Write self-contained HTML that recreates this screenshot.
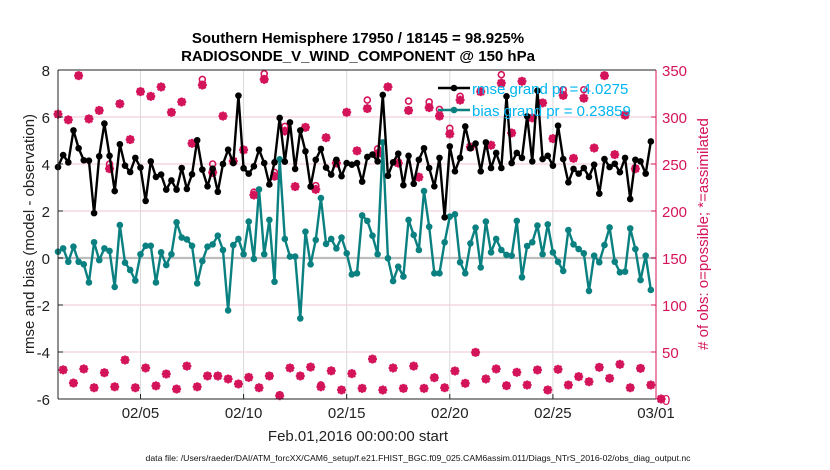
<!DOCTYPE html>
<html><head><meta charset="utf-8">
<style>
html,body{margin:0;padding:0;background:#fff;}
svg{display:block;font-family:"Liberation Sans",sans-serif;}
</style></head>
<body>
<svg id="chart" width="830" height="470" viewBox="0 0 830 470">
<text x="358" y="43" text-anchor="middle" font-size="15" font-weight="bold">Southern Hemisphere 17950 / 18145 = 98.925%</text>
<text x="358" y="61" text-anchor="middle" font-size="15" font-weight="bold">RADIOSONDE_V_WIND_COMPONENT @ 150 hPa</text>
<text transform="translate(34,234) rotate(-90)" text-anchor="middle" font-size="15" fill="#222">rmse and bias (model - observation)</text>
<text transform="translate(708,234) rotate(-90)" text-anchor="middle" font-size="15" fill="#d4145a"># of obs: o=possible; *=assimilated</text>
<text x="358" y="441" text-anchor="middle" font-size="15" fill="#222">Feb.01,2016 00:00:00 start</text>
<text x="418" y="461" text-anchor="middle" font-size="8.4" textLength="545" lengthAdjust="spacingAndGlyphs" fill="#111">data file: /Users/raeder/DAI/ATM_forcXX/CAM6_setup/f.e21.FHIST_BGC.f09_025.CAM6assim.011/Diags_NTrS_2016-02/obs_diag_output.nc</text>
<g id="grid"></g>
<g id="marks"></g>
<g id="axes"></g>
<g id="legend"></g>
</svg>
<script>
const xTickLabels=["02/05","02/10","02/15","02/20","02/25","03/01"];
const xTickDays=[4,9,14,19,24,29];
const yTicksLeft=[-6,-4,-2,0,2,4,6,8];
const yTicksRight=[0,50,100,150,200,250,300,350];
const rmse=[3.87,4.38,4.07,5.43,4.67,4.16,4.14,1.91,4.33,5.72,4.35,2.85,4.84,3.93,3.66,4.26,3.85,2.43,4.11,3.45,3.55,2.91,3.30,2.91,3.83,2.94,3.56,5.01,3.76,3.05,3.80,2.82,4.0,4.61,4.04,6.91,3.82,3.59,3.90,4.61,4.04,3.13,4.07,5.96,4.10,5.77,3.79,5.43,4.54,3.04,4.18,4.64,3.85,3.55,4.18,3.48,4.04,3.97,4.04,3.25,4.30,4.40,4.11,6.94,3.5,4.07,4.44,3.1,4.35,3.16,4.18,4.67,3.83,3.05,4.26,1.73,4.75,3.69,4.26,5.6,4.67,4.87,3.69,4.92,3.83,4.47,3.83,6.88,4.04,4.47,4.26,6.03,4.11,7.12,4.21,4.35,3.93,5.63,4.21,3.22,3.79,3.59,3.83,3.45,3.97,2.74,4.21,3.87,4.01,3.65,4.26,2.51,4.18,4.11,3.59,4.96];
const bias=[0.27,0.41,-0.16,0.48,-0.16,-0.27,-1.04,0.67,-0.09,0.41,0.30,-1.23,1.40,-0.2,-0.51,-0.96,0.16,0.52,0.52,-1.04,0.24,-0.3,0.16,1.52,0.87,0.79,0.52,-1.08,-0.13,0.48,0.58,0.95,0.34,-2.23,0.55,0.81,0.16,1.55,-0.04,2.92,0.16,1.62,-1.01,4.2,0.81,0.06,0.06,-2.57,1.12,-0.27,0.77,2.55,0.6,0.81,0.41,0.87,0.2,-0.7,-0.65,1.81,1.58,0.95,0.16,4.92,-0.01,-0.98,-0.37,-0.79,1.62,0.98,0.34,2.85,1.33,-0.65,-0.65,0.67,1.76,1.86,-0.18,-0.65,0.62,1.29,-0.4,1.55,0.24,0.81,0.34,0.13,0.1,1.58,-0.82,0.51,0.67,1.38,0.16,1.43,0.24,-0.16,-0.55,1.19,0.58,0.38,0.2,-1.4,0.1,-0.18,0.55,1.3,-0.16,-0.61,-0.58,1.26,0.38,-0.94,0.1,-1.36];
const assimUpper=[303,297,344,298,307,245,314,276,327,322,332,305,316,272,334,241,301,253,265,217,340,237,285,226,289,223,278,251,305,264,309,261,332,251,307,236,310,301,282,318,268,327,270,336,283,338,299,315,277,323,256,320,267,344,260,302,245];
const possUpper=[303,297,344,298,307,250,314,276,327,322,332,305,316,272,340,250,301,253,265,220,346,241,290,226,289,227,278,252,305,264,318,266,332,251,317,236,316,308,288,322,268,327,270,345,283,338,299,315,277,329,256,329,267,344,260,302,245];
const assimLower=[31,17,32,12,28,13,41.5,12,33,14,26.6,10.6,35,13,24.5,24.5,21.3,16,23,12,24.5,3.5,33,24.5,34,13,30,9.6,27,11.3,42.5,9.6,33,11.3,35,11.3,22.7,12,29.8,16.7,49.6,21.3,32,14.2,28.4,14.9,30.9,9.6,31.6,14.9,23.8,18.4,33.7,22,36.9,12,32.6,14.9,0];
const possLower=[31,17,32,12,28,13,41.5,12,33,14,26.6,10.6,35,13,24.5,24.5,21.3,16,23,12,24.5,4.5,33,24.5,34,15,30,9.6,27,11.3,42.5,9.6,33,11.3,35,11.3,22.7,12,29.8,16.7,49.6,21.3,32,14.2,28.4,14.9,30.9,9.6,31.6,14.9,23.8,18.4,33.7,22,36.9,12,32.6,14.9,0];

const L=58,R=656,T=70,B=399;
const X=d=>L+(R-L)*d/29;
const Y=v=>B-(B-T)*(v+6)/14;
const YR=c=>B-(B-T)*c/350;
const NS="http://www.w3.org/2000/svg";
function mk(tag,attrs,parent){const e=document.createElementNS(NS,tag);for(const k in attrs)e.setAttribute(k,attrs[k]);parent.appendChild(e);return e;}
const grid=document.getElementById('grid'),marks=document.getElementById('marks'),axes=document.getElementById('axes'),leg=document.getElementById('legend');
const PINK="#d4145a",TEAL="#0a8080";

yTicksLeft.forEach(v=>{
  if(v>-6&&v<8){const g=mk('line',{x1:L,x2:R,y1:Y(v),y2:Y(v),stroke:'#f2c6d6','stroke-width':1},grid);
  
  }
  const t=mk('text',{x:L-8,y:Y(v)+6,'text-anchor':'end','font-size':15,fill:'#222'},axes);t.textContent=v;
  
  
  mk('line',{x1:L,x2:L+5,y1:Y(v),y2:Y(v),stroke:'#222'},axes);
});
xTickDays.forEach((d,i)=>{
  if(d<29){const g=mk('line',{x1:X(d),x2:X(d),y1:T,y2:B,stroke:'#d9d9d9','stroke-width':1},grid);
  
  }
  mk('line',{x1:X(d),x2:X(d),y1:B,y2:B-5,stroke:'#222'},axes);
  const t=mk('text',{x:X(d),y:B+19,'text-anchor':'middle','font-size':15,fill:'#222'},axes);t.textContent=xTickLabels[i];
  
  
});
yTicksRight.forEach(c=>{
  mk('line',{x1:R,x2:R-5,y1:YR(c),y2:YR(c),stroke:PINK},axes);
  const t=mk('text',{x:R+6,y:YR(c)+6,'font-size':15,fill:PINK},axes);t.textContent=c;
  
  
});
const z=mk('line',{x1:L,x2:R,y1:Y(0),y2:Y(0),stroke:'#bdbdbd','stroke-width':2.2},grid);



function star(x,y,name){
  const g=mk('g',{stroke:PINK,'stroke-width':2.2,fill:PINK},marks);
  
  
  mk('circle',{cx:x,cy:y,r:3},g);
  mk('line',{x1:x-4.5,x2:x+4.5,y1:y,y2:y},g);
  mk('line',{x1:x,x2:x,y1:y-4.5,y2:y+4.5},g);
  mk('line',{x1:x-3.3,x2:x+3.3,y1:y-3.3,y2:y+3.3},g);
  mk('line',{x1:x-3.3,x2:x+3.3,y1:y+3.3,y2:y-3.3},g);
}
function ring(x,y){
  const c=mk('circle',{cx:x,cy:y,r:3,fill:'none',stroke:PINK,'stroke-width':1.6},marks);
  
  
}
possUpper.forEach((c,i)=>ring(X(i*0.5),YR(c)));
possLower.forEach((c,i)=>ring(X(0.25+i*0.5),YR(c)));
assimUpper.forEach((c,i)=>star(X(i*0.5),YR(c),'assimilated-obs-marker'));
assimLower.forEach((c,i)=>star(X(0.25+i*0.5),YR(c),'assimilated-obs-marker'));

function series(vals,color,name){
  const g=mk('g',{},marks);
  
  
  mk('polyline',{points:vals.map((v,i)=>X(i*0.25)+','+Y(v)).join(' '),fill:'none',stroke:color,'stroke-width':2.4,'stroke-linejoin':'round'},g);
  vals.forEach((v,i)=>{const c=mk('circle',{cx:X(i*0.25),cy:Y(v),r:3.3,fill:color},g);
    
    });
}
series(bias,TEAL,'bias-series');
series(rmse,'#000','rmse-series');

mk('line',{x1:L,x2:R,y1:T,y2:T,stroke:'#222','stroke-width':1},axes);
mk('line',{x1:L,x2:R,y1:B,y2:B,stroke:'#222','stroke-width':1},axes);
mk('line',{x1:L,x2:L,y1:T,y2:B,stroke:'#222','stroke-width':1},axes);
mk('line',{x1:R,x2:R,y1:T,y2:B,stroke:PINK,'stroke-width':1},axes);

[[88,'#000','rmse grand pr = 4.0275','legend-rmse'],[110,TEAL,'bias grand pr = 0.23859','legend-bias']].forEach(r=>{
  const g=mk('g',{},leg);
  
  
  mk('line',{x1:438,x2:470,y1:r[0],y2:r[0],stroke:r[1],'stroke-width':2.4},g);
  mk('circle',{cx:454,cy:r[0],r:3.3,fill:r[1]},g);
  const t=mk('text',{x:472,y:r[0]+6,'font-size':15,fill:'#00b4f0'},g);t.textContent=r[2];
});
</script>
</body></html>
